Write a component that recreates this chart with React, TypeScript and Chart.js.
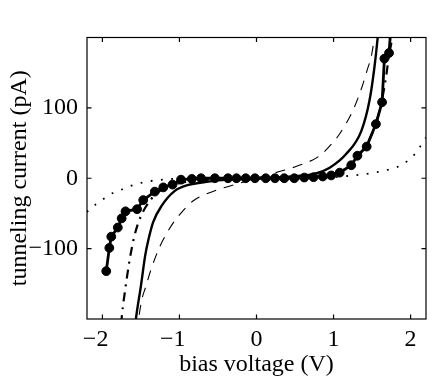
import React, { useEffect, useRef } from "react";
import { Chart, registerables } from "chart.js";

Chart.register(...registerables);

// ---- axis ticks ----
const X_TICKS = [-2, -1, 0, 1, 2];
const Y_TICKS = [-100, 0, 100];

// ---- measured data (filled circles) ----
const MEAS_V = [-1.95, -1.91, -1.885, -1.8, -1.75, -1.7, -1.55, -1.47, -1.32, -1.21, -1.09, -0.98, -0.84, -0.72, -0.54, -0.37, -0.26, -0.14, -0.02, 0.12, 0.24, 0.36, 0.49, 0.62, 0.74, 0.86, 0.97, 1.08, 1.23, 1.31, 1.43, 1.55, 1.63, 1.66, 1.72, 1.77];
const MEAS_I = [-132, -99, -83, -70, -57, -47, -44, -31, -19, -13, -9, -2, -1, 0, 0, 0, 0, 0, 0, 0, 0, 0, 0, 1, 1.5, 2.5, 4, 8, 18.5, 32, 45, 77, 108, 170, 178, 250];

// ---- solid curve ----
const SOLID_V = [-1.62, -1.565, -1.5, -1.445, -1.4, -1.34, -1.23, -1.06, -0.885, -0.71, -0.5, -0.25, 0, 0.25, 0.5, 0.75, 0.95, 1.16, 1.36, 1.466, 1.53, 1.573, 1.62];
const SOLID_I = [-260, -200, -153, -110, -86, -62, -39, -18, -9.5, -6, -3, -1, 0, 1, 3, 6, 15, 34, 67, 110, 157, 200, 260];

// ---- dashed curve ----
const DASH_V = [-1.58, -1.53, -1.49, -1.44, -1.37, -1.25, -1.06, -1.0, -0.82, -0.52, -0.25, 0, 0.25, 0.52, 0.82, 1.0, 1.06, 1.25, 1.37, 1.44, 1.49, 1.53, 1.58];
const DASH_I = [-245, -200, -173, -155, -130, -96, -60, -52, -32, -17, -8, 0, 8, 17, 32, 52, 60, 96, 130, 155, 173, 200, 245];

// ---- dash-dot curve ----
const DD_V = [-1.78, -1.747, -1.7, -1.66, -1.62, -1.58, -1.53, -1.445, -1.3, -1.1, -0.9, -0.6, -0.3, 0, 0.3, 0.6, 0.9, 1.08, 1.23, 1.33, 1.43, 1.55, 1.63, 1.68, 1.72, 1.76, 1.8];
const DD_I = [-240, -195, -155, -125, -100, -80, -62, -42, -22, -10, -5, -2, -0.5, 0, 0.5, 1, 3, 9, 19, 32, 48, 78, 112, 143, 175, 200, 250];

// ---- dotted curve ----
const DOT_V = [-2.2, -2.15, -2.07, -1.96, -1.85, -1.74, -1.635, -1.53, -1.42, -1.29, -1.18, -1.0, -0.5, 0, 0.5, 1.0, 1.2, 1.34, 1.47, 1.6, 1.72, 1.85, 1.96, 2.06, 2.13, 2.2];
const DOT_I = [-48, -42, -36, -27.5, -20, -15.6, -11, -7.5, -4.7, -2.8, -1.6, -0.6, 0, 0, 0, 1.5, 3.3, 5, 7, 9.5, 12.5, 17, 24.6, 35, 46, 58];

const X_TITLE = "bias voltage (V)";
const Y_TITLE = "tunneling current (pA)";

const FONT_FAMILY = '"Liberation Serif", "Times New Roman", serif';
const FONT_SIZE = 24;
const TICK_LEN = 4.5;

const pts = (xs: number[], ys: number[]) => xs.map((x, i) => ({ x, y: ys[i] }));
const fmt = (v: number) => (v < 0 ? "\u2212" + Math.abs(v) : String(v));

const framePlugin = {
  id: "frameTicks",
  afterDatasetsDraw(chart: any) {
    const { ctx, chartArea, scales } = chart;
    const { left, right, top, bottom } = chartArea;
    const xs = scales.x;
    const ys = scales.y;
    ctx.save();
    ctx.strokeStyle = "#000";
    ctx.lineWidth = 1.2;
    ctx.strokeRect(left, top, right - left, bottom - top);
    ctx.beginPath();
    X_TICKS.forEach((v) => {
      const px = xs.getPixelForValue(v);
      ctx.moveTo(px, bottom);
      ctx.lineTo(px, bottom - TICK_LEN);
      ctx.moveTo(px, top);
      ctx.lineTo(px, top + TICK_LEN);
    });
    Y_TICKS.forEach((v) => {
      const py = ys.getPixelForValue(v);
      ctx.moveTo(left, py);
      ctx.lineTo(left + TICK_LEN, py);
      ctx.moveTo(right, py);
      ctx.lineTo(right - TICK_LEN, py);
    });
    ctx.stroke();
    // x tick labels: digits centred on the tick, minus sign hanging left
    ctx.fillStyle = "#000";
    ctx.font = `${FONT_SIZE}px ${FONT_FAMILY}`;
    ctx.textBaseline = "middle";
    ctx.textAlign = "left";
    X_TICKS.forEach((v) => {
      const px = xs.getPixelForValue(v);
      const digits = String(Math.abs(v));
      const label = fmt(v);
      const wd = ctx.measureText(digits).width;
      const wl = ctx.measureText(label).width;
      ctx.fillText(label, px - wd / 2 - (wl - wd), bottom + 21);
    });
    ctx.restore();
  },
};

export default function App() {
  const ref = useRef<HTMLCanvasElement>(null);
  useEffect(() => {
    if (!ref.current) return;
    const font = { family: FONT_FAMILY, size: FONT_SIZE };
    const chart = new Chart(ref.current, {
      type: "line",
      data: {
        datasets: [
          {
            data: pts(DOT_V, DOT_I),
            borderColor: "#000",
            borderWidth: 1.8,
            borderDash: [1.8, 8.5],
            pointRadius: 0,
            cubicInterpolationMode: "monotone",
            fill: false,
            clip: 0,
          },
          {
            data: pts(DASH_V, DASH_I),
            borderColor: "#000",
            borderWidth: 1.1,
            borderDash: [10, 8],
            pointRadius: 0,
            cubicInterpolationMode: "monotone",
            fill: false,
            clip: 0,
          },
          {
            data: pts(SOLID_V, SOLID_I),
            borderColor: "#000",
            borderWidth: 2.4,
            pointRadius: 0,
            cubicInterpolationMode: "monotone",
            fill: false,
            clip: 0,
          },
          {
            data: pts(DD_V, DD_I),
            borderColor: "#000",
            borderWidth: 2.2,
            borderDash: [9, 6, 2, 6],
            pointRadius: 0,
            cubicInterpolationMode: "monotone",
            fill: false,
            clip: 0,
          },
          {
            data: pts(MEAS_V, MEAS_I),
            borderColor: "#000",
            borderWidth: 2.8,
            pointRadius: 4.4,
            pointBorderWidth: 1,
            pointBackgroundColor: "#000",
            pointBorderColor: "#000",
            tension: 0,
            fill: false,
            clip: 0,
          },
        ] as any,
      },
      options: {
        animation: false,
        responsive: false,
        devicePixelRatio: 1,
        layout: { padding: { top: 37.5, right: 10, left: 0, bottom: 0 } },
        plugins: { legend: { display: false }, tooltip: { enabled: false } },
        scales: {
          x: {
            type: "linear",
            min: -2.2,
            max: 2.2,
            afterBuildTicks: (s: any) => {
              s.ticks = X_TICKS.map((v) => ({ value: v }));
            },
            afterFit: (s: any) => {
              s.height = 62;
            },
            grid: { display: false, drawTicks: false, tickLength: 0 },
            border: { display: false },
            ticks: { display: false },
            title: {
              display: true,
              text: X_TITLE,
              color: "#000",
              font,
              padding: { top: 0, bottom: 2 },
            },
          },
          y: {
            type: "linear",
            min: -200,
            max: 200,
            afterBuildTicks: (s: any) => {
              s.ticks = Y_TICKS.map((v) => ({ value: v }));
            },
            afterFit: (s: any) => {
              s.width = 87;
            },
            grid: { display: false, drawTicks: false, tickLength: 0 },
            border: { display: false },
            ticks: {
              color: "#000",
              font,
              padding: 9,
              callback: (v: any) => fmt(Number(v)),
            },
            title: {
              display: true,
              text: Y_TITLE,
              color: "#000",
              font,
              padding: { top: 5, bottom: 0 },
            },
          },
        },
      } as any,
      plugins: [framePlugin],
    });
    return () => chart.destroy();
  }, []);
  return (
    <div style={{ position: "fixed", left: 0, top: 0, width: 436, height: 381, background: "#fff" }}>
      <canvas ref={ref} width={436} height={381} style={{ display: "block" }} />
    </div>
  );
}
